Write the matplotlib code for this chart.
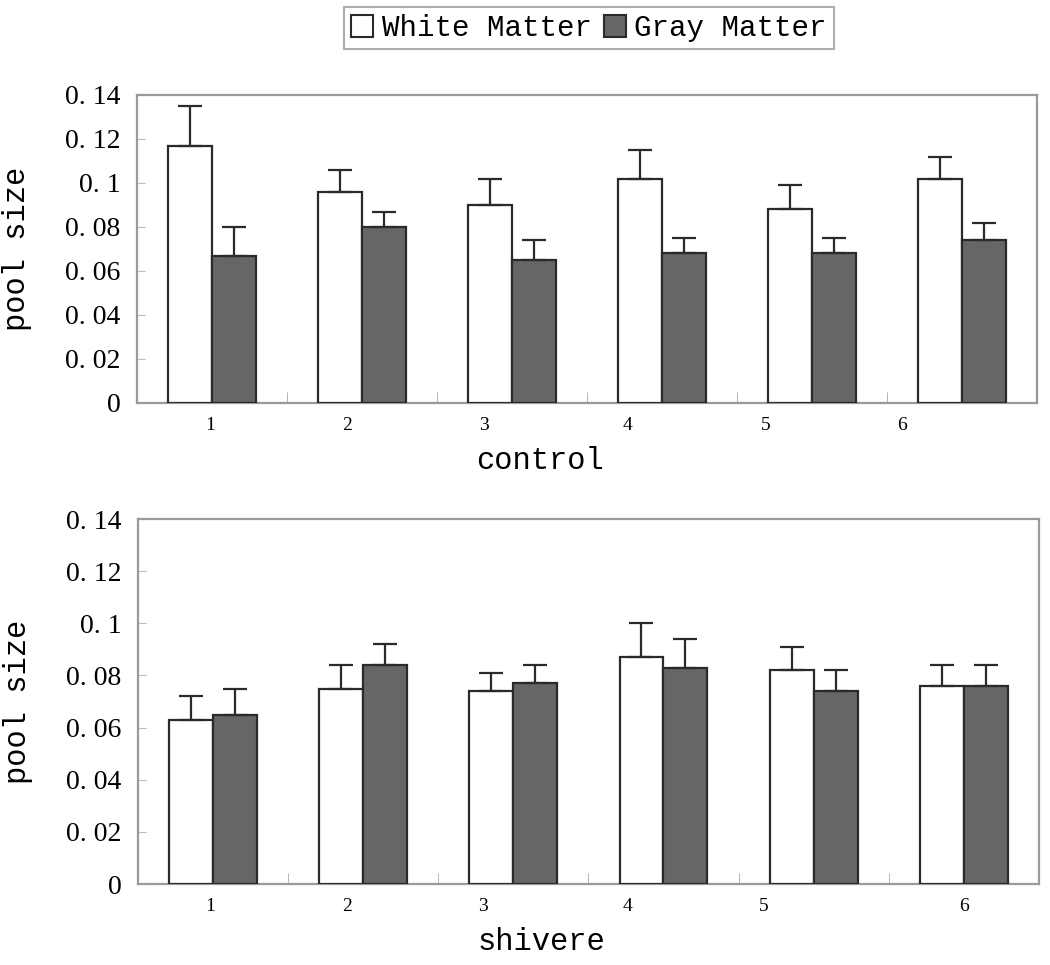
import numpy as np
import matplotlib.pyplot as plt
from matplotlib.patches import Patch

groups = ["1", "2", "3", "4", "5", "6"]

control_white = [0.117, 0.096, 0.090, 0.102, 0.088, 0.102]
control_white_err = [0.018, 0.010, 0.012, 0.013, 0.011, 0.010]
control_gray = [0.067, 0.080, 0.065, 0.068, 0.068, 0.074]
control_gray_err = [0.013, 0.007, 0.009, 0.007, 0.007, 0.008]

shivere_white = [0.063, 0.075, 0.074, 0.087, 0.082, 0.076]
shivere_white_err = [0.009, 0.009, 0.007, 0.013, 0.009, 0.008]
shivere_gray = [0.065, 0.084, 0.077, 0.083, 0.074, 0.076]
shivere_gray_err = [0.010, 0.008, 0.007, 0.011, 0.008, 0.008]

yticks = [0, 0.02, 0.04, 0.06, 0.08, 0.1, 0.12, 0.14]
ytick_labels = ["0", "0. 02", "0. 04", "0. 06", "0. 08", "0. 1", "0. 12", "0. 14"]

serif = "Liberation Serif"
mono = "Liberation Mono"
frame_col = "#9a9a9a"
edge_col = "#2a2a2a"
gray_col = "#666666"

fig = plt.figure(figsize=(10.5, 9.65), dpi=100)
ax1 = fig.add_axes([0.1305, 0.5824, 0.857, 0.3192])
ax2 = fig.add_axes([0.1314, 0.0839, 0.858, 0.3782])


def draw(ax, white, white_err, gray, gray_err, xlabel, label_pos):
    x = np.arange(len(groups)) + 0.5
    w = 0.293
    ekw = dict(ecolor=edge_col, elinewidth=1.6, capsize=8.5, capthick=1.6)
    ax.bar(x - w / 2, white, w, color="white", edgecolor=edge_col, linewidth=1.6,
           yerr=[np.zeros(len(white)), white_err], error_kw=ekw, zorder=3)
    ax.bar(x + w / 2, gray, w, color=gray_col, edgecolor=edge_col, linewidth=1.6,
           yerr=[np.zeros(len(gray)), gray_err], error_kw=ekw, zorder=3)
    ax.set_xlim(0, len(groups))
    ax.set_ylim(0, 0.14)
    ax.set_yticks(yticks)
    ax.set_yticklabels(ytick_labels, fontfamily=serif, fontsize=20)
    ax.tick_params(axis="y", direction="in", length=6, color="#bbbbbb", pad=12)
    ax.set_xticks(label_pos)
    ax.set_xticklabels(groups, fontfamily=serif, fontsize=14)
    ax.tick_params(axis="x", length=0, pad=10)
    ax.set_xticks(np.arange(1, len(groups)), minor=True)
    ax.tick_params(axis="x", which="minor", direction="in", length=8, color="#aaaaaa")
    for s in ax.spines.values():
        s.set_color(frame_col)
        s.set_linewidth(1.6)
    ax.set_xlabel(xlabel, fontfamily=mono, fontsize=22)
    ax.xaxis.set_label_coords(0.448, -0.14 * 0.3192 / ax.get_position().height)
    ax.set_ylabel("pool size", fontfamily=mono, fontsize=22)
    ax.yaxis.set_label_coords(-0.117, 0.5)


draw(ax1, control_white, control_white_err, control_gray, control_gray_err,
     "control", [0.49, 1.40, 2.31, 3.27, 4.19, 5.10])
draw(ax2, shivere_white, shivere_white_err, shivere_gray, shivere_gray_err,
     "shivere", [0.48, 1.39, 2.30, 3.26, 4.17, 5.50])

handles = [Patch(facecolor="white", edgecolor=edge_col, linewidth=1.5, label="White Matter"),
           Patch(facecolor=gray_col, edgecolor=edge_col, linewidth=1.5, label="Gray Matter")]
leg = fig.legend(handles=handles, loc="upper center", bbox_to_anchor=(0.561, 0.999), ncol=2,
                 prop={"family": mono, "size": 21}, frameon=True, fancybox=False,
                 handlelength=0.75, handleheight=0.75, handletextpad=0.3, columnspacing=0.4,
                 borderpad=0.25, borderaxespad=0.2)
leg.get_frame().set_edgecolor(frame_col)
leg.get_frame().set_linewidth(1.5)

fig.savefig("out.png", dpi=100)
